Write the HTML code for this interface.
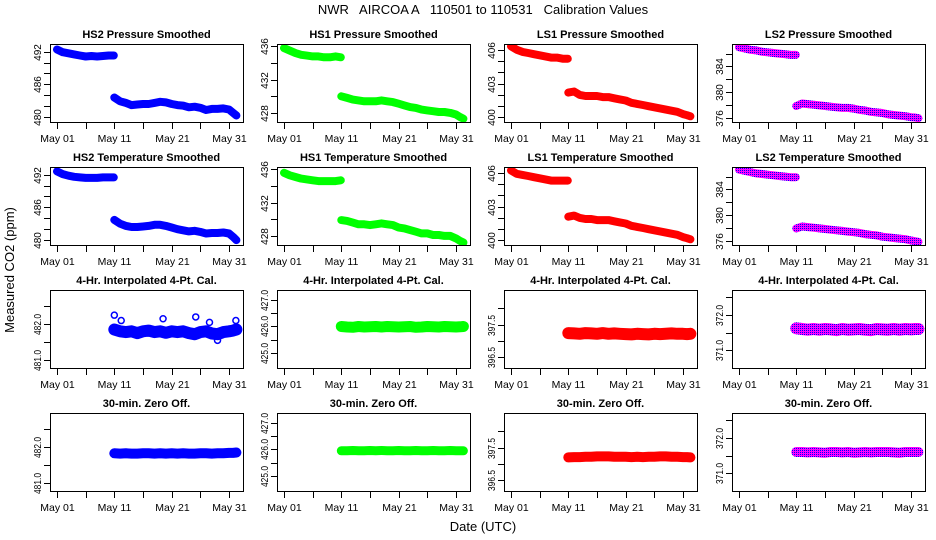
<!DOCTYPE html>
<html><head><meta charset="utf-8"><style>
html,body{margin:0;padding:0;background:#fff}
svg{display:block;font-family:"Liberation Sans",Arial,sans-serif}
</style></head><body>
<svg id="chart" width="936" height="540" viewBox="0 0 936 540" xmlns="http://www.w3.org/2000/svg">
<defs>
<pattern id="chk" width="2" height="2" patternUnits="userSpaceOnUse"><rect width="2" height="2" fill="#ff00ff"/><rect width="1" height="1" fill="#0000ff"/></pattern>
</defs>
<text x="483" y="14" font-size="13" text-anchor="middle" style="white-space:pre">NWR   AIRCOA A   110501 to 110531   Calibration Values</text>
<text transform="translate(14,270) rotate(-90)" font-size="13" text-anchor="middle">Measured CO2 (ppm)</text>
<text x="483" y="531" font-size="13" text-anchor="middle">Date (UTC)</text>
<g id="panels"></g>
</svg>
<script>
// ---- data ----
const xTickDays = [0,5,10,15,20,25,30];
const xTickLabels = ["May 01","","May 11","","May 21","","May 31"];
const daysA = [0,1,2,3,4,5,6,7,8,9,9.9];
const daysB = [10,11,12,13,14,15,16,17,18,19,20,21,22,23,24,25,26,27,28,29,30,30.7,31.3];
const daysN = [10,11,12,13,14,15,16,17,18,19,20,21,22,23,24,25,26,27,28,29,30,30.7,31.3];

const hs2P_A = [492.4,491.9,491.7,491.5,491.3,491.1,491.2,491.1,491.2,491.3,491.3];
const hs2P_B = [483.6,482.9,482.6,482.2,482.3,482.4,482.4,482.6,482.8,482.7,482.4,482.2,482.1,481.8,481.9,481.7,481.3,481.5,481.5,481.6,481.4,480.8,480.3];
const hs2T_A = [492.6,492.1,491.8,491.6,491.5,491.4,491.4,491.4,491.5,491.5,491.5];
const hs2T_B = [483.7,483.0,482.6,482.4,482.4,482.5,482.6,482.8,482.8,482.6,482.3,482.0,481.8,481.6,481.7,481.5,481.2,481.3,481.3,481.4,481.2,480.6,480.0];
const hs1P_A = [435.8,435.5,435.2,435.0,434.9,434.8,434.8,434.7,434.7,434.8,434.7];
const hs1P_B = [430.0,429.8,429.6,429.5,429.4,429.4,429.4,429.5,429.4,429.3,429.1,428.9,428.7,428.6,428.4,428.3,428.2,428.1,428.1,428.0,427.8,427.5,427.3];
const hs1T_A = [435.6,435.3,435.1,434.9,434.8,434.7,434.6,434.6,434.6,434.6,434.7];
const hs1T_B = [429.9,429.8,429.6,429.4,429.4,429.3,429.4,429.5,429.4,429.3,429.0,428.9,428.7,428.5,428.3,428.3,428.1,428.1,428.0,428.0,427.7,427.4,427.2];
const ls1P_A = [406.3,406.0,405.8,405.7,405.6,405.5,405.4,405.3,405.3,405.2,405.2];
const ls1P_B = [402.2,402.3,402.0,401.9,401.9,401.9,401.8,401.8,401.7,401.6,401.5,401.3,401.2,401.1,401.0,400.9,400.8,400.7,400.6,400.5,400.3,400.2,400.1];
const ls1T_A = [406.2,405.9,405.8,405.7,405.6,405.5,405.4,405.3,405.3,405.3,405.3];
const ls1T_B = [402.1,402.2,402.0,401.9,401.9,401.8,401.8,401.8,401.7,401.6,401.5,401.3,401.2,401.1,401.0,400.9,400.8,400.7,400.6,400.5,400.3,400.2,400.1];
const ls2P_A = [387.0,386.8,386.6,386.5,386.3,386.2,386.1,386.0,385.9,385.8,385.8];
const ls2P_B = [377.8,378.2,378.1,378.0,377.9,377.8,377.7,377.6,377.5,377.5,377.4,377.2,377.1,376.9,376.8,376.7,376.5,376.4,376.3,376.2,376.05,376.0,375.9];
const ls2T_A = [387.1,386.9,386.7,386.5,386.4,386.3,386.2,386.1,386.0,385.9,385.9];
const ls2T_B = [377.9,378.2,378.1,378.0,377.9,377.8,377.7,377.6,377.5,377.4,377.3,377.2,377.0,376.9,376.8,376.6,376.5,376.4,376.3,376.2,376.0,375.9,375.8];

const hs2I = [481.85,481.8,481.78,481.8,481.75,481.8,481.82,481.78,481.8,481.76,481.8,481.78,481.8,481.75,481.72,481.78,481.8,481.74,481.72,481.78,481.8,481.82,481.85];
const hs2Z = [481.83,481.82,481.83,481.82,481.82,481.83,481.83,481.82,481.83,481.82,481.83,481.82,481.83,481.82,481.82,481.83,481.83,481.82,481.83,481.83,481.84,481.84,481.85];
const hs1I = [426.0,425.98,425.97,426.0,425.98,425.99,426.0,425.98,426.0,425.99,425.98,425.99,426.0,425.97,425.98,426.0,425.99,425.98,426.0,425.99,425.98,425.99,426.0];
const hs1Z = [425.95,425.95,425.96,425.95,425.95,425.96,425.95,425.96,425.95,425.95,425.96,425.95,425.95,425.96,425.95,425.95,425.96,425.95,425.95,425.96,425.95,425.95,425.95];
const ls1I = [397.24,397.23,397.22,397.24,397.23,397.22,397.24,397.22,397.23,397.22,397.21,397.2,397.22,397.21,397.2,397.22,397.21,397.22,397.23,397.22,397.22,397.21,397.22];
const ls1Z = [397.2,397.21,397.21,397.22,397.22,397.23,397.23,397.23,397.22,397.22,397.22,397.21,397.22,397.21,397.22,397.22,397.23,397.23,397.22,397.22,397.21,397.21,397.2];
const ls2I = [371.62,371.6,371.58,371.6,371.58,371.6,371.59,371.57,371.6,371.58,371.59,371.6,371.58,371.57,371.6,371.59,371.58,371.6,371.58,371.6,371.59,371.6,371.6];
const ls2Z = [371.6,371.6,371.59,371.6,371.59,371.58,371.6,371.6,371.59,371.6,371.58,371.59,371.6,371.59,371.6,371.6,371.6,371.59,371.58,371.6,371.6,371.6,371.6];
const hs2I_outDays = [10,11.2,18.5,24.2,26.6,28,31.2];
const hs2I_outVals = [482.25,482.1,482.15,482.2,482.05,481.55,482.1];

// ---- layout ----
const colLeft = [50,277,504,732];
const rowTop = [44,167,290,413];
const PW = 193, PH = 78;
const colors = ["#0000ff","#00ff00","#ff0000","url(#chk)"];
const panels = [
 {r:0,c:0,t:"HS2 Pressure Smoothed",yl:[479.1,493.4],ticks:[480,482,484,486,488,490,492],labs:["480","","","486","","","492"],segs:[[daysA,hs2P_A],[daysB,hs2P_B]],w:8},
 {r:0,c:1,t:"HS1 Pressure Smoothed",yl:[426.9,436.3],ticks:[428,430,432,434,436],labs:["428","","432","","436"],segs:[[daysA,hs1P_A],[daysB,hs1P_B]],w:8},
 {r:0,c:2,t:"LS1 Pressure Smoothed",yl:[399.6,406.5],ticks:[400,401,402,403,404,405,406],labs:["400","","","403","","","406"],segs:[[daysA,ls1P_A],[daysB,ls1P_B]],w:8},
 {r:0,c:3,t:"LS2 Pressure Smoothed",yl:[375.3,387.5],ticks:[376,378,380,382,384,386],labs:["376","","380","","384",""],segs:[[daysA,ls2P_A],[daysB,ls2P_B]],w:8},
 {r:1,c:0,t:"HS2 Temperature Smoothed",yl:[479.1,493.4],ticks:[480,482,484,486,488,490,492],labs:["480","","","486","","","492"],segs:[[daysA,hs2T_A],[daysB,hs2T_B]],w:8},
 {r:1,c:1,t:"HS1 Temperature Smoothed",yl:[426.9,436.3],ticks:[428,430,432,434,436],labs:["428","","432","","436"],segs:[[daysA,hs1T_A],[daysB,hs1T_B]],w:8},
 {r:1,c:2,t:"LS1 Temperature Smoothed",yl:[399.6,406.5],ticks:[400,401,402,403,404,405,406],labs:["400","","","403","","","406"],segs:[[daysA,ls1T_A],[daysB,ls1T_B]],w:8},
 {r:1,c:3,t:"LS2 Temperature Smoothed",yl:[375.3,387.5],ticks:[376,378,380,382,384,386],labs:["376","","380","","384",""],segs:[[daysA,ls2T_A],[daysB,ls2T_B]],w:8},
 {r:2,c:0,t:"4-Hr. Interpolated 4-Pt. Cal.",yl:[480.78,482.95],ticks:[481,481.5,482,482.5],labs:["481.0","","482.0",""],segs:[[daysN,hs2I]],w:12,out:[hs2I_outDays,hs2I_outVals]},
 {r:2,c:1,t:"4-Hr. Interpolated 4-Pt. Cal.",yl:[424.43,427.38],ticks:[425,425.5,426,426.5,427],labs:["425.0","","426.0","","427.0"],segs:[[daysN,hs1I]],w:11},
 {r:2,c:2,t:"4-Hr. Interpolated 4-Pt. Cal.",yl:[396.18,398.55],ticks:[396.5,397,397.5,398],labs:["396.5","","397.5",""],segs:[[daysN,ls1I]],w:12},
 {r:2,c:3,t:"4-Hr. Interpolated 4-Pt. Cal.",yl:[370.51,372.69],ticks:[371,371.5,372,372.5],labs:["371.0","","372.0",""],segs:[[daysN,ls2I]],w:12},
 {r:3,c:0,t:"30-min. Zero Off.",yl:[480.78,482.95],ticks:[481,481.5,482,482.5],labs:["481.0","","482.0",""],segs:[[daysN,hs2Z]],w:10},
 {r:3,c:1,t:"30-min. Zero Off.",yl:[424.43,427.38],ticks:[425,425.5,426,426.5,427],labs:["425.0","","426.0","","427.0"],segs:[[daysN,hs1Z]],w:9},
 {r:3,c:2,t:"30-min. Zero Off.",yl:[396.18,398.55],ticks:[396.5,397,397.5,398],labs:["396.5","","397.5",""],segs:[[daysN,ls1Z]],w:10},
 {r:3,c:3,t:"30-min. Zero Off.",yl:[370.51,372.69],ticks:[371,371.5,372,372.5],labs:["371.0","","372.0",""],segs:[[daysN,ls2Z]],w:10}
];
const NS="http://www.w3.org/2000/svg";
const root=document.getElementById('panels');
function mk(tag,attrs,parent){const e=document.createElementNS(NS,tag);for(const k in attrs)e.setAttribute(k,attrs[k]);parent.appendChild(e);return e;}
panels.forEach(p=>{
  const L=colLeft[p.c], T=rowTop[p.r], B=T+PH;
  const xs=d=>L+7+d*5.733;
  const ys=v=>B-(v-p.yl[0])/(p.yl[1]-p.yl[0])*PH;
  const g=mk('g',{},root);
  
  
  const tt=mk('text',{x:L+PW/2,y:T-6,'font-size':11,'font-weight':'bold','text-anchor':'middle'},g);
  tt.textContent=p.t;
  
  
  const cl='cp'+p.r+p.c;
  const cp=mk('clipPath',{id:cl},g); mk('rect',{x:L,y:T,width:PW,height:PH},cp);
  const dg=mk('g',{'clip-path':'url(#'+cl+')'},g);
  p.segs.forEach(s=>{
    const pts=s[0].map((d,i)=>xs(d).toFixed(1)+','+ys(s[1][i]).toFixed(1)).join(' ');
    const pl=mk('polyline',{points:pts,fill:'none',stroke:colors[p.c],'stroke-width':p.w,'stroke-linecap':'round','stroke-linejoin':'round'},dg);
    
    
  });
  if(p.out){p.out[0].forEach((d,i)=>{
    const c=mk('circle',{cx:xs(d),cy:ys(p.out[1][i]),r:3,fill:'none',stroke:colors[p.c],'stroke-width':1.5},dg);
    
    
  });}
  const bx=mk('rect',{x:L+0.5,y:T+0.5,width:PW,height:PH,fill:'none',stroke:'#000','stroke-width':1},g);
  
  
  xTickDays.forEach((d,i)=>{
    const x=Math.round(xs(d))+0.5;
    mk('line',{x1:x,x2:x,y1:B+1,y2:B+7,stroke:'#000'},g);
    if(xTickLabels[i]){const t=mk('text',{x:x,y:B+20,'font-size':10.5,'text-anchor':'middle'},g);t.textContent=xTickLabels[i];
      
      }
  });
  p.ticks.forEach((v,i)=>{
    const y=Math.round(ys(v))+0.5;
    mk('line',{x1:L-6,x2:L,y1:y,y2:y,stroke:'#000'},g);
    if(p.labs[i]){const t=mk('text',{transform:'translate('+(L-9)+','+y+') rotate(-90)','font-size':10,'text-anchor':'middle'},g);t.textContent=p.labs[i];
      if(p.labs[i].length>3){t.setAttribute('textLength','21');t.setAttribute('lengthAdjust','spacingAndGlyphs');}
      
      }
  });
});
</script>
</body></html>
